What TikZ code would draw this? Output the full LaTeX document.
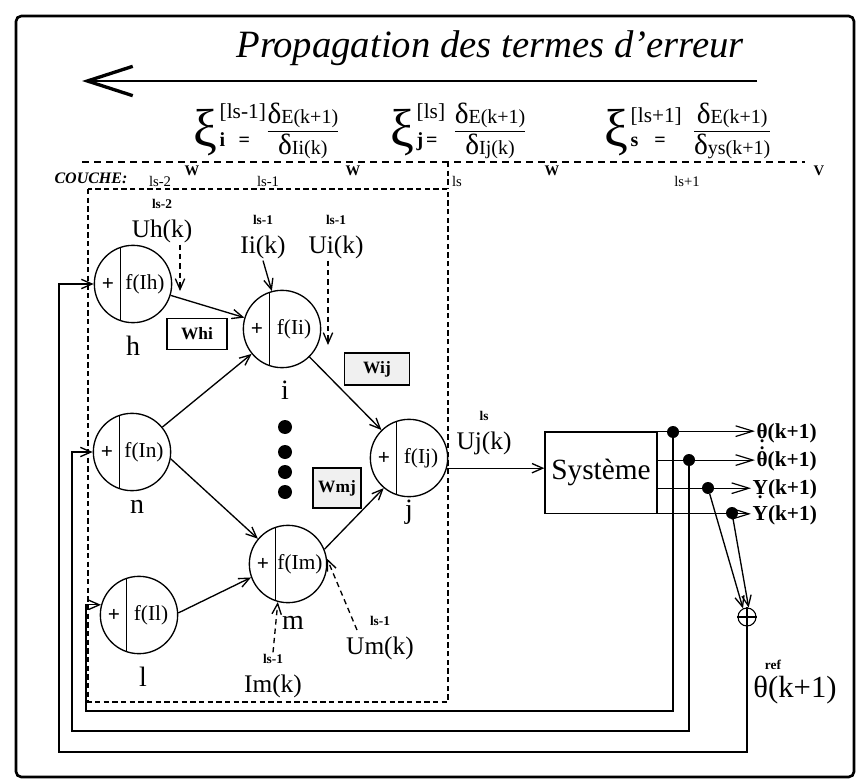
\documentclass[tikz,border=0pt]{standalone}
\usepackage{fontspec}
\setmainfont{Liberation Serif}
\usepackage{amsmath}
\usepackage{xcolor}
\usepackage{tikz}
\usetikzlibrary{arrows.meta,positioning,calc}

\newcommand{\lsfont}{\fontsize{10}{11}\selectfont\bfseries}
\newcommand{\xiterm}[2]{{\fontsize{40}{40}\selectfont ξ}\hspace{2pt}\shortstack[l]{{\fontsize{16}{17}\selectfont #1}\\[6pt]{\fontsize{15}{16}\selectfont\bfseries #2}}}
\newcommand{\dfr}[2]{\raisebox{8pt}{$\displaystyle\frac{\mbox{{\fontsize{22}{22}\selectfont δ}{\fontsize{15}{16}\selectfont #1}}}{\mbox{{\fontsize{22}{22}\selectfont δ}{\fontsize{15}{16}\selectfont #2}}}$}}
\newcommand{\udot}[1]{\leavevmode\vtop{\offinterlineskip\halign{\hfil##\hfil\cr#1\cr\noalign{\kern1.5pt}{\fontsize{14}{14}\selectfont.}\cr}}}
\newcommand{\adot}[1]{\leavevmode\vbox{\offinterlineskip\halign{\hfil##\hfil\cr{\fontsize{14}{14}\selectfont.}\cr\noalign{\kern1pt}#1\cr}}}

\begin{document}
\begin{tikzpicture}[x=0.75pt,y=-0.75pt,font=\fontsize{14}{16}\selectfont,
  neuron/.style={draw,circle,line width=1pt,minimum size=58pt,inner sep=0pt},
  ntext/.style={font=\fontsize{16}{18}\selectfont,inner sep=0pt},
  nname/.style={font=\fontsize{21}{22}\selectfont},
  inlbl/.style={align=center,font=\fontsize{19}{22}\selectfont,inner sep=1pt},
  lsl/.style={font=\lsfont},
  toplbl/.style={font=\fontsize{11}{12}\selectfont},
  wmark/.style={font=\fontsize{11}{12}\selectfont\bfseries,inner sep=0pt},
  wbox/.style={draw,line width=1pt,font=\fontsize{13}{14}\selectfont\bfseries,inner sep=0pt},
  conn/.style={line width=1pt,-{Straight Barb[length=8pt,width=7pt]}},
  dashin/.style={conn,dash pattern=on 4pt off 3pt},
  outln/.style={line width=0.9pt,-{Straight Barb[length=13pt,width=8pt]}},
  outlbl/.style={font=\fontsize{16}{17}\selectfont\bfseries,inner sep=1pt},
  bullet/.style={circle,fill,inner sep=0pt,minimum size=9pt}
]
\useasboundingbox (0,0) rectangle (860,781);
\draw[line width=2pt,rounded corners=4pt] (16,16) rectangle (854,777);

\node[font=\fontsize{29}{32}\selectfont\itshape] (title) at (490,48) {Propagation des termes d'erreur};
\coordinate (arrowtail) at (757,81);
\coordinate (arrowtip) at (82,81);
\draw[line width=1.2pt,-{Straight Barb[length=34pt,width=22pt,line width=2.5pt]}] (arrowtail) -- (arrowtip);

\node[anchor=base west,inner sep=0pt] (f1) at (193,147) {\xiterm{[ls-1]}{i\hspace{10pt}=}\dfr{E(k+1)}{Ii(k)}};
\node[anchor=base west,inner sep=0pt] (f2) at (390,147) {\xiterm{[ls]}{j\hspace{2pt}=}\hspace{6pt}\dfr{E(k+1)}{Ij(k)}};
\node[anchor=base west,inner sep=0pt] (f3) at (604,147) {\xiterm{[ls+1]}{s\hspace{12pt}=}\hspace{8pt}\dfr{E(k+1)}{ys(k+1)}};

\draw[line width=1.2pt,dash pattern=on 5pt off 4pt] (82,162) -- (805,162);
\node[font=\fontsize{12}{13}\selectfont\bfseries\itshape] (couche) at (91,178) {COUCHE:};
\foreach \nm/\x/\t in {c1/160/ls-2, c2/268/ls-1, c3/457/ls, c4/687/ls+1}
  \node[toplbl] (\nm) at (\x,181) {\t};
\foreach \nm/\x/\t in {w1/192/W, w2/353/W, w3/552/W, v1/819/V}
  \node[wmark] (\nm) at (\x,171) {\t};

\draw[line width=1.6pt,dash pattern=on 4pt off 2.5pt] (88,189) rectangle (448,702);
\draw[line width=1.6pt,dash pattern=on 4pt off 2.5pt] (448,162) -- (448,189);

\foreach \n/\x/\y/\f/\lx/\ly in {h/133/284/Ih/0/62, i/282/329/Ii/3/61, n/132/452/In/5/55, j/409/458/Ij/0/54, m/288/564/Im/5/59, l/139/615/Il/4/62} {
  \node[neuron] (\n) at (\x,\y) {};
  \draw[line width=0.7pt] ($(\n)+(-13,-36)$) -- ($(\n)+(-13,36)$);
  \node[ntext] (\n-plus) at ($(\n)+(-25,0)$) {\textbf{+}};
  \node[ntext] (\n-f) at ($(\n)+(12,0)$) {f(\f)};
  \node[nname] (\n-name) at ($(\n)+(\lx,\ly)$) {\n};
}

\draw[conn] (h) -- (i);
\draw[conn] (n) -- (i);
\draw[conn] (i) -- (j);
\draw[conn] (n.-10) -- (m.140);
\draw[conn] (l.3) -- (m.200);
\draw[conn] (m.22) -- (j.230);

\node[wbox,minimum width=45pt,minimum height=23pt] (whi) at (197,334) {Whi};
\node[wbox,fill=gray!12,minimum width=49pt,minimum height=24pt] (wij) at (377,369) {Wij};
\node[wbox,fill=gray!12,minimum width=36pt,minimum height=30pt] (wmj) at (337,488) {Wmj};

\foreach \y in {427,452,472,492}
  \fill (285,\y) circle (7);

\node[inlbl] (uhk) at (162,221) {{\lsfont ls-2}\\Uh(k)};
\node[inlbl] (iik) at (263,237) {{\lsfont ls-1}\\Ii(k)};
\node[inlbl] (uik) at (336,237) {{\lsfont ls-1}\\Ui(k)};
\node[inlbl] (imk) at (273,676) {{\lsfont ls-1}\\Im(k)};
\node[inlbl] (umk) at (380,638) {{\lsfont ls-1}\\Um(k)};
\node[inlbl] (ujk) at (484,433) {{\lsfont ls}\\Uj(k)};
\coordinate (uhtip) at (180,291);
\coordinate (uitip) at (328,345);
\coordinate (umtail) at (357,630);
\draw[dashin] (uhk.south -| uhtip) -- (uhtip);
\draw[conn] (iik.south) -- (i.105);
\draw[dashin] (uik.south -| uitip) -- (uitip);
\draw[dashin] (imk.north) -- (m.255);
\draw[dashin] (umtail) -- (m.8);

\node[draw,line width=1pt,minimum width=84pt,minimum height=61pt,inner sep=0pt,font=\fontsize{22}{24}\selectfont] (sys) at (601,472.5) {Système};
\draw[conn] (j.-15) -- (j.-15 -| sys.west);

\node[outlbl,anchor=base west] (o1) at (755,438) {\udot{θ}(k+1)};
\node[outlbl,anchor=base west] (o2) at (755,466) {\adot{θ}(k+1)};
\node[outlbl,anchor=base west] (o3) at (751,494) {\udot{Y}(k+1)};
\node[outlbl,anchor=base west] (o4) at (751,520) {Y(k+1)};
\coordinate (s2) at ($(sys.north east)!0.35!(sys.south east)$);
\coordinate (s3) at ($(sys.north east)!0.69!(sys.south east)$);
\draw[outln] (sys.north east) -- (sys.north east -| o1.west);
\draw[outln] (s2) -- (s2 -| o2.west);
\draw[outln] (s3) -- (s3 -| o3.west);
\draw[outln] (sys.south east) -- (sys.south east -| o4.west);
\node[bullet] (d1) at (673,432) {};
\node[bullet] (d2) at (689,460) {};
\node[bullet] (d3) at (708,488) {};
\node[bullet] (d4) at (732,513) {};

\node[draw,circle,line width=0.8pt,inner sep=0pt,minimum size=13.5pt] (sum) at (747,617) {};
\draw[line width=0.8pt] (sum.north) -- (sum.south) (sum.west) -- (sum.east);
\draw[conn] (d3) -- (sum.115);
\draw[conn] (d4) -- (sum.80);
\node[font=\fontsize{23}{24}\selectfont] (thref) at (795,690) {θ(k+1)};
\node[lsl] (reflbl) at (773,665) {ref};

\coordinate (fb1) at (86,711);
\coordinate (fb2) at (72,731);
\coordinate (fb3) at (59,752);
\draw[conn] (d1) |- (fb1) |- (l.165);
\draw[conn] (d2) |- (fb2) |- (n.west);
\draw[conn] (sum.south) |- (fb3) |- (h.west);
\end{tikzpicture}
\end{document}
